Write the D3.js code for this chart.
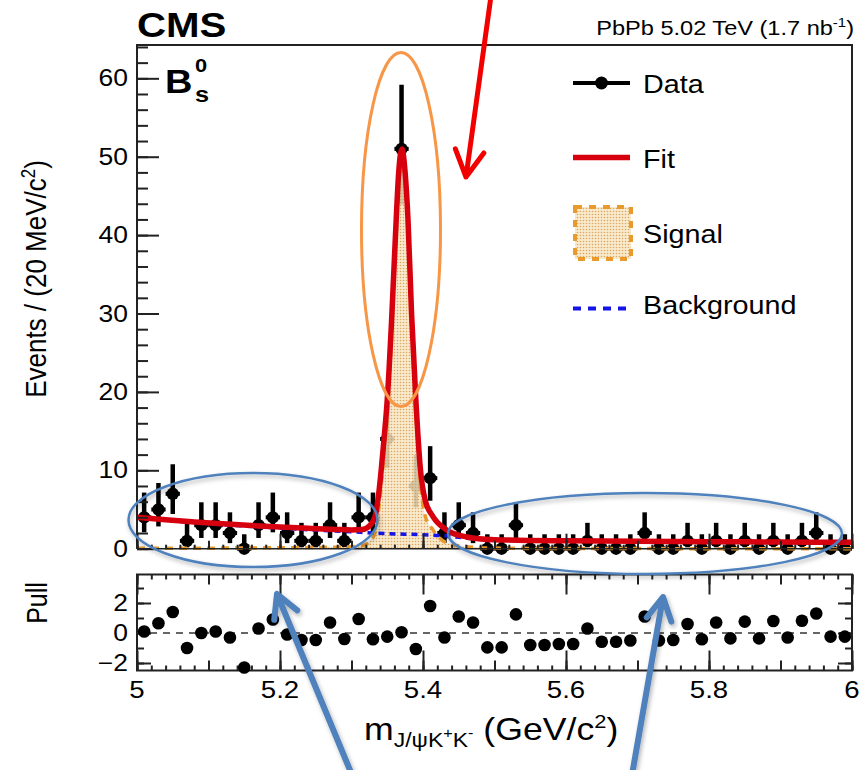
<!DOCTYPE html>
<html>
<head>
<meta charset="utf-8">
<script src="https://cdn.jsdelivr.net/npm/d3@7"></script>
<style>
  body { margin: 0; background: #fff; }
  svg { display: block; background: #fff; }
  text { font-family: "Liberation Sans", Arial, Helvetica, sans-serif; fill: #000; }
</style>
</head>
<body>
<svg id="chart" width="865" height="770"></svg>
<script>
// ---- Data: B_s0 candidate mass distribution, 20 MeV bins ----
const binCenters = [5.01,5.03,5.05,5.07,5.09,5.11,5.13,5.15,5.17,5.19,
                    5.21,5.23,5.25,5.27,5.29,5.31,5.33,5.35,5.37,5.39,
                    5.41,5.43,5.45,5.47,5.49,5.51,5.53,5.55,5.57,5.59,
                    5.61,5.63,5.65,5.67,5.69,5.71,5.73,5.75,5.77,5.79,
                    5.81,5.83,5.85,5.87,5.89,5.91,5.93,5.95,5.97,5.99];
const counts = [4,5,7,1,3,3,2,0,3,4,
                2,1,1,3,1,4,4,14,51,8,
                9,2,3,2,0,0,3,0,0,0,
                0,1,0,0,0,2,0,0,1,0,
                1,0,1,0,1,0,1,2,0,0];
const errLow = [1.91,2.16,2.57,0.83,1.63,1.63,1.29,0,1.63,1.91,
                1.29,0.83,0.83,1.63,0.83,1.91,1.91,3.69,7.12,2.73,
                2.88,1.29,1.63,1.29,0,0,1.63,0,0,0,
                0,0.83,0,0,0,1.29,0,0,0.83,0,
                0.83,0,0.83,0,0.83,0,0.83,1.29,0,0];
const errHigh = [3.16,3.38,3.77,2.30,2.92,2.92,2.64,1.84,2.92,3.16,
                 2.64,2.30,2.30,2.92,2.30,3.16,3.16,4.83,8.18,3.94,
                 4.08,2.64,2.92,2.64,1.84,1.84,2.92,1.84,1.84,1.84,
                 1.84,2.30,1.84,1.84,1.84,2.64,1.84,1.84,2.30,1.84,
                 2.30,1.84,2.30,1.84,2.30,1.84,2.30,2.64,1.84,1.84];
const pulls = [0.1,0.65,1.4,-1.0,0.0,0.1,-0.3,-2.3,0.3,0.9,
               -0.1,-0.47,-0.47,0.7,-0.4,0.93,-0.42,-0.24,0.05,-1.07,
               1.8,-0.3,1.1,0.7,-0.96,-0.96,1.24,-0.8,-0.8,-0.73,
               -0.73,0.3,-0.58,-0.58,-0.5,1.1,-0.5,-0.47,0.6,-0.42,
               0.7,-0.36,0.76,-0.36,0.8,-0.3,0.82,1.3,-0.24,-0.24];

// Total fit curve
const fitMass  = [5.000,5.040,5.080,5.120,5.160,5.200,5.240,5.280,5.300,5.315,5.325,5.333,5.338,5.345,5.350,5.356,5.362,5.366,5.3705,5.375,5.379,5.384,5.390,5.396,5.403,5.414,5.433,5.461,5.500,5.600,5.700,5.800,5.900,6.000];
const fitYield = [4.00,3.68,3.42,3.18,2.95,2.76,2.60,2.46,2.40,2.45,2.90,4.10,7.00,13.5,19.0,29.0,41.0,48.0,51.0,48.0,42.0,30.0,19.0,10.5,6.2,4.1,2.4,1.5,1.15,1.0,0.95,0.9,0.85,0.82];
// Background component
const bkgMass  = [5.00,5.10,5.20,5.30,5.35,5.40,5.43,5.45,5.47,5.50,5.60,5.80,6.00];
const bkgYield = [3.95,3.20,2.62,2.15,1.92,1.78,1.65,1.45,1.25,1.10,0.98,0.90,0.82];
// Signal component
const sigMass  = [5.000,5.100,5.200,5.280,5.300,5.315,5.325,5.333,5.338,5.345,5.350,5.356,5.362,5.366,5.3705,5.375,5.379,5.384,5.390,5.396,5.403,5.414,5.433,5.461,5.500,5.600,6.000];
const sigYield = [0.05,0.07,0.12,0.20,0.25,0.40,0.90,2.10,5.00,11.6,17.1,27.1,39.1,46.1,49.1,46.2,40.2,28.2,17.2,8.8,4.2,2.4,0.75,0.25,0.08,0.02,0];

const xTickValues = [5, 5.2, 5.4, 5.6, 5.8, 6];
const xTickLabels = ["5", "5.2", "5.4", "5.6", "5.8", "6"];
const yTickValues = [0, 10, 20, 30, 40, 50, 60];
const pullTickValues = [-2, 0, 2];
const pullTickLabels = ["\u22122", "0", "2"];
const legendItems = ["Data", "Fit", "Signal", "Background"];

// ---- Layout ----
const svg = d3.select("#chart");
const SX = 1.15;                       // horizontal text stretch
const L = 137, R = 852;
const x = d3.scaleLinear().domain([5, 6]).range([L, R]);
const y = d3.scaleLinear().domain([0, 64.25]).range([548.7, 45]);
const yp = d3.scaleLinear().domain([-2.5, 3.9]).range([670.5, 574.5]);

const RED = "#d7000f", ORANGE = "#e99a2c", BLUE = "#1414e6", INK = "#222";

const defs = svg.append("defs");
const pat = defs.append("pattern").attr("id", "sigfill").attr("patternUnits", "userSpaceOnUse")
  .attr("width", 3).attr("height", 3);
pat.append("rect").attr("width", 3).attr("height", 3).attr("fill", "#f9e6c4").attr("fill-opacity", 0.85);
pat.append("circle").attr("cx", 1.5).attr("cy", 1.5).attr("r", 0.8).attr("fill", "#d49a4c").attr("fill-opacity", 0.85);

const shadow = defs.append("filter").attr("id", "shade").attr("x", "-20%").attr("y", "-20%").attr("width", "140%").attr("height", "140%");
shadow.append("feDropShadow").attr("dx", 1.5).attr("dy", 2.5).attr("stdDeviation", 2).attr("flood-color", "#000").attr("flood-opacity", 0.3);

function label(px, py, size, anchor, content, opts = {}) {
  const g = svg.append("g")
    .attr("transform", `translate(${px},${py}) scale(${SX},1)` + (opts.rot ? ` rotate(${opts.rot})` : ""));
  const t = g.append("text").attr("text-anchor", anchor).attr("font-size", size);
  if (opts.bold) t.attr("font-weight", "bold");
  if (typeof content === "string") t.text(content);
  else content.forEach(p => t.append("tspan").attr("font-size", p.size || size).attr("dy", p.dy || 0).text(p.t));
  return t;
}

function tickRow(axisFn, scale, vals, len, tx, ty) {
  const ax = axisFn(scale).tickValues(vals).tickSize(len).tickSizeOuter(0).tickFormat("");
  const g = svg.append("g").attr("transform", `translate(${tx},${ty})`).call(ax);
  g.select(".domain").remove();
  g.selectAll(".tick line").attr("stroke", INK).attr("stroke-width", 2);
  g.selectAll(".tick text").remove();
}

// ---- Upper panel: data points ----
const data = binCenters.map((c, i) => ({ c, n: counts[i], lo: errLow[i], hi: errHigh[i], p: pulls[i] }));
const pts = svg.append("g").attr("class", "data");
pts.selectAll("line.v").data(data).join("line")
  .attr("x1", d => x(d.c)).attr("x2", d => x(d.c))
  .attr("y1", d => y(d.n - d.lo)).attr("y2", d => y(d.n + d.hi))
  .attr("stroke", "#000").attr("stroke-width", 4.5);
pts.selectAll("line.h").data(data).join("line")
  .attr("x1", d => x(d.c - 0.01)).attr("x2", d => x(d.c + 0.01))
  .attr("y1", d => y(d.n)).attr("y2", d => y(d.n))
  .attr("stroke", "#000").attr("stroke-width", 4);
pts.selectAll("circle").data(data).join("circle")
  .attr("cx", d => x(d.c)).attr("cy", d => y(d.n)).attr("r", 6.2).attr("fill", "#000");

// ---- Fit components ----
const sigPts = sigMass.map((m, i) => [m, sigYield[i]]);
svg.append("path").datum(sigPts)
  .attr("d", d3.area().x(d => x(d[0])).y0(y(0)).y1(d => y(d[1])).curve(d3.curveMonotoneX))
  .attr("fill", "url(#sigfill)");
svg.append("path").datum(sigPts)
  .attr("d", d3.line().x(d => x(d[0])).y(d => y(d[1])).curve(d3.curveMonotoneX))
  .attr("fill", "none").attr("stroke", ORANGE).attr("stroke-width", 3.5).attr("stroke-dasharray", "8,6");

svg.append("path").datum(bkgMass.map((m, i) => [m, bkgYield[i]]))
  .attr("d", d3.line().x(d => x(d[0])).y(d => y(d[1])).curve(d3.curveMonotoneX))
  .attr("fill", "none").attr("stroke", BLUE).attr("stroke-width", 3.5).attr("stroke-dasharray", "6,5");

svg.append("path").datum(fitMass.map((m, i) => [m, fitYield[i]]))
  .attr("d", d3.line().x(d => x(d[0])).y(d => y(d[1])).curve(d3.curveMonotoneX))
  .attr("fill", "none").attr("stroke", RED).attr("stroke-width", 5.5).attr("stroke-linejoin", "round");

// ---- Upper panel frame and ticks ----
svg.append("path").attr("d", `M${L},${y(0)}V${y.range()[1]}H${R}V${y(0)}`)
  .attr("fill", "none").attr("stroke", INK).attr("stroke-width", 2);
svg.append("line").attr("x1", L).attr("x2", R).attr("y1", y(0)).attr("y2", y(0))
  .attr("stroke", INK).attr("stroke-width", 1.5);
const xMinor = d3.range(0, 51).map(k => 5 + 0.02 * k);
const xMid = d3.range(0, 11).map(k => 5 + 0.1 * k);
tickRow(d3.axisTop, x, xMinor, 4, 0, y(0));
tickRow(d3.axisTop, x, xMid, 8, 0, y(0));
tickRow(d3.axisTop, x, xTickValues, 15, 0, y(0));
tickRow(d3.axisRight, y, d3.range(0, 65, 2), 11, L, 0);
tickRow(d3.axisRight, y, yTickValues, 22, L, 0);
yTickValues.forEach(v => label(128, y(v) + 8, 23, "end", String(v)));

// ---- Pull panel ----
svg.append("rect").attr("x", L).attr("y", yp.range()[1]).attr("width", R - L)
  .attr("height", yp.range()[0] - yp.range()[1])
  .attr("fill", "none").attr("stroke", INK).attr("stroke-width", 2);
svg.append("line").attr("x1", L).attr("x2", R).attr("y1", yp(0)).attr("y2", yp(0))
  .attr("stroke", "#666").attr("stroke-width", 2).attr("stroke-dasharray", "7,6");
tickRow(d3.axisTop, x, xMinor, 5, 0, yp.range()[0]);
tickRow(d3.axisTop, x, xMid, 10, 0, yp.range()[0]);
tickRow(d3.axisTop, x, xTickValues, 20, 0, yp.range()[0]);
tickRow(d3.axisBottom, x, xMinor, 5, 0, yp.range()[1]);
tickRow(d3.axisBottom, x, xMid, 10, 0, yp.range()[1]);
tickRow(d3.axisBottom, x, xTickValues, 20, 0, yp.range()[1]);
const pullAll = [-2, -1, 0, 1, 2, 3];
tickRow(d3.axisRight, yp, pullAll, 7, L, 0);
tickRow(d3.axisRight, yp, pullTickValues, 14, L, 0);
tickRow(d3.axisLeft, yp, pullAll, 7, R, 0);
tickRow(d3.axisLeft, yp, pullTickValues, 14, R, 0);
svg.append("g").selectAll("circle").data(data).join("circle")
  .attr("cx", d => x(d.c)).attr("cy", d => yp(d.p)).attr("r", 6.3).attr("fill", "#000");
pullTickValues.forEach((v, i) => label(128, yp(v) + 8, 23, "end", pullTickLabels[i]));
xTickValues.forEach((v, i) => label(x(v), 698, 24, "middle", xTickLabels[i]));

// ---- Titles ----
label(137, 37, 35, "start", "CMS", { bold: true });
label(854, 35, 20.5, "end", [
  { t: "PbPb 5.02 TeV (1.7 nb" }, { t: "-1", size: 13, dy: -8 }, { t: ")", size: 20.5, dy: 8 }]);
label(165, 93, 33, "start", "B", { bold: true });
label(195, 72, 19, "start", "0", { bold: true });
label(195, 102, 22, "start", "s", { bold: true });
label(46, 279, 26, "middle", [
  { t: "Events / (20 MeV/c" }, { t: "2", size: 17, dy: -10 }, { t: ")", size: 26, dy: 10 }], { rot: -90 });
label(47, 603, 25, "middle", "Pull", { rot: -90 });
label(364, 740, 31, "start", [
  { t: "m" }, { t: "J/\u03c8K", size: 20, dy: 7 }, { t: "+", size: 14, dy: -9 },
  { t: "K", size: 20, dy: 9 }, { t: "-", size: 14, dy: -9 },
  { t: " (GeV/c", size: 31, dy: 2 }, { t: "2", size: 19, dy: -12 }, { t: ")", size: 31, dy: 12 }]);

// ---- Legend ----
const lx0 = 573, lx1 = 630, ltx = 643;
svg.append("line").attr("x1", lx0).attr("x2", lx1).attr("y1", 83).attr("y2", 83).attr("stroke", "#000").attr("stroke-width", 4);
svg.append("circle").attr("cx", 601.5).attr("cy", 83).attr("r", 6.5).attr("fill", "#000");
label(ltx, 92.5, 25, "start", legendItems[0]);
svg.append("line").attr("x1", lx0).attr("x2", lx1).attr("y1", 157.5).attr("y2", 157.5).attr("stroke", RED).attr("stroke-width", 5.5);
label(ltx, 168, 25, "start", legendItems[1]);
svg.append("rect").attr("x", 575).attr("y", 207).attr("width", 56).attr("height", 52)
  .attr("fill", "url(#sigfill)").attr("stroke", ORANGE).attr("stroke-width", 4).attr("stroke-dasharray", "7,7");
label(ltx, 243, 25, "start", legendItems[2]);
svg.append("line").attr("x1", lx0).attr("x2", lx1).attr("y1", 308.5).attr("y2", 308.5)
  .attr("stroke", BLUE).attr("stroke-width", 4).attr("stroke-dasharray", "8,7");
label(ltx, 313.5, 25, "start", legendItems[3]);

// ---- Highlight shapes ----
const hl = svg.append("g");
hl.append("ellipse").attr("cx", 401).attr("cy", 229.5).attr("rx", 39.5).attr("ry", 177)
  .attr("fill", "none").attr("stroke", "#f79646").attr("stroke-width", 3);
hl.append("ellipse").attr("cx", 253).attr("cy", 520).attr("rx", 124.5).attr("ry", 47)
  .attr("fill", "none").attr("stroke", "#4f81bd").attr("stroke-width", 2.5).attr("filter", "url(#shade)");
hl.append("ellipse").attr("cx", 645).attr("cy", 533.5).attr("rx", 197).attr("ry", 40.5)
  .attr("fill", "none").attr("stroke", "#4f81bd").attr("stroke-width", 2.5).attr("filter", "url(#shade)");

function arrow(x0, y0, x1, y1, color, width, wing, filt) {
  const a = Math.atan2(y1 - y0, x1 - x0);
  const g = svg.append("g").attr("stroke", color).attr("stroke-width", width)
    .attr("stroke-linecap", "round").attr("stroke-linejoin", "round").attr("fill", "none");
  if (filt) g.attr("filter", filt);
  const w1 = [x1 - wing * Math.cos(a - 0.5), y1 - wing * Math.sin(a - 0.5)];
  const w2 = [x1 - wing * Math.cos(a + 0.5), y1 - wing * Math.sin(a + 0.5)];
  g.append("path").attr("d", `M${x0},${y0}L${x1},${y1}M${w1[0]},${w1[1]}L${x1},${y1}L${w2[0]},${w2[1]}`);
}
arrow(491, -4, 466, 177, "#f20000", 5, 30, null);
arrow(352, 775, 277, 594, "#4f81bd", 6, 26, "url(#shade)");
arrow(632, 775, 663, 597, "#4f81bd", 6, 26, "url(#shade)");
</script>
</body>
</html>
